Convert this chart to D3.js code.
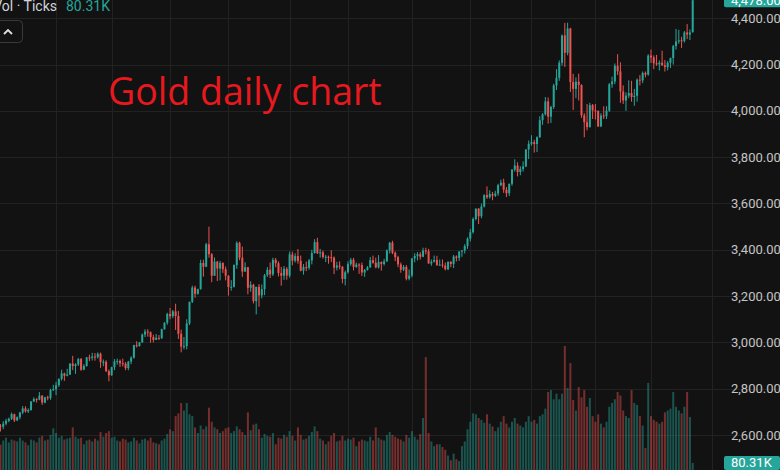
<!DOCTYPE html>
<html><head><meta charset="utf-8">
<script src="https://cdn.jsdelivr.net/npm/d3@7"></script>
<style>html,body{margin:0;padding:0;background:#121212;overflow:hidden}svg{display:block}</style>
</head><body>
<svg id="c" width="780" height="470"></svg>
<script>
const opens = [
2624,2658,2640,2636,2649,2661,2670,2690,2663,2677,2697,2715,2702,2708,2745,2755,2753,2770,2740,2763,2760,2794,
2798,2815,2842,2866,2856,2861,2908,2898,2905,2928,2882,2898,2935,2933,2939,2936,2951,2915,2916,2876,
2858,2893,2918,2920,2910,2908,2889,2917,2934,2988,2984,3000,3034,3047,3044,3023,3011,3020,3018,3057,3085,
3123,3113,3134,3114,3037,2982,2984,3082,3175,3237,3210,3230,3343,3327,3424,3381,3288,3349,3319,3343,3316,
3288,3239,3240,3334,3430,3366,3306,3325,3236,3249,3178,3240,3203,3230,3290,3314,3294,3357,3342,3300,3288,3318,
3289,3380,3353,3373,3352,3310,3325,3322,3354,3386,3433,3385,3389,3369,3370,3368,3366,3323,3332,3327,3274,
3303,3338,3357,3326,3336,3334,3302,3313,3324,3355,3344,3324,3347,3339,3350,3397,3431,3387,3368,3337,3314,3326,3275,
3289,3363,3373,3381,3370,3397,3394,3341,3348,3356,3335,3336,3332,3316,3348,3339,3371,3365,3393,3397,3416,
3448,3476,3533,3578,3545,3587,3636,3627,3641,3634,3643,3679,3690,3660,3644,3685,3746,3764,3736,3749,3760,3833,
3858,3865,3857,3886,3960,3985,4041,3975,4017,4110,4143,4208,4326,4251,4356,4125,4095,4126,4112,3981,3951,3930,4025,
4002,4000,3933,3980,3977,4001,4115,4127,4195,4171,4084,4045,4066,4077,4060,4065,4135,4132,4164,4157,
4239,4231,4206,4201,4208,4197,4189,4208,4228,4280,4300,4305,4302,4339,4330,4340];
const highs = [
2660,2665,2647,2660,2670,2675,2697,2692,2680,2700,2725,2724,2715,2746,2763,2759,2786,2772,2765,2770,2800,2817,
2830,2845,2882,2869,2886,2911,2942,2910,2933,2933,2906,2937,2947,2955,2954,2957,2956,2926,2923,2883,
2895,2928,2930,2926,2930,2915,2920,2940,2990,3005,3002,3038,3057,3057,3047,3033,3036,3032,3059,3087,3128,
3149,3140,3167,3136,3055,3023,3100,3176,3245,3245,3232,3357,3357,3430,3500,3386,3367,3352,3352,3346,3328,
3290,3269,3337,3437,3435,3414,3346,3325,3264,3253,3240,3252,3250,3296,3325,3345,3366,3365,3350,3326,3330,3325,
3392,3392,3385,3403,3375,3338,3349,3360,3400,3446,3452,3404,3397,3378,3375,3398,3371,3348,3350,3329,3310,
3350,3365,3365,3345,3342,3345,3317,3330,3369,3375,3366,3377,3350,3361,3402,3434,3439,3393,3374,3345,3334,3334,3315,
3363,3385,3390,3390,3409,3409,3404,3358,3375,3374,3358,3358,3345,3350,3351,3378,3376,3393,3399,3424,3454,
3490,3540,3578,3580,3600,3640,3674,3657,3650,3655,3685,3703,3707,3671,3686,3749,3791,3778,3761,3782,3835,3872,
3895,3875,3890,3977,3990,4060,4058,4022,4117,4180,4218,4330,4380,4381,4359,4160,4145,4161,4115,3990,4030,4035,4030,
4030,4002,3990,4020,4020,4120,4148,4205,4245,4210,4110,4080,4132,4130,4095,4140,4155,4170,4170,4245,
4265,4240,4242,4218,4260,4220,4215,4230,4285,4354,4350,4320,4345,4375,4352,4484];
const lows = [
2620,2635,2615,2625,2642,2655,2665,2656,2660,2668,2690,2697,2695,2705,2742,2740,2750,2730,2737,2750,2752,2790,
2772,2808,2835,2834,2853,2860,2880,2864,2898,2877,2880,2895,2919,2922,2921,2930,2890,2897,2872,2832,
2856,2880,2904,2894,2896,2880,2880,2906,2930,2978,2982,2998,3023,3025,2999,3000,3010,3010,3015,3055,3076,
3100,3105,3054,3015,2957,2970,2970,3075,3170,3193,3206,3228,3284,3325,3366,3260,3287,3265,3268,3300,3268,
3202,3223,3237,3318,3355,3283,3306,3208,3219,3168,3121,3154,3190,3204,3283,3278,3287,3325,3285,3245,3270,3271,
3280,3333,3345,3340,3307,3293,3308,3314,3337,3384,3382,3366,3362,3347,3340,3347,3295,3311,3316,3255,3246,
3297,3331,3311,3322,3296,3287,3283,3310,3322,3340,3320,3319,3310,3332,3348,3384,3381,3351,3325,3301,3308,3268,3268,
3281,3346,3354,3358,3368,3380,3340,3331,3345,3330,3331,3323,3311,3312,3325,3321,3350,3352,3370,3384,3404,
3436,3470,3527,3511,3536,3583,3620,3621,3614,3628,3633,3675,3646,3628,3632,3677,3738,3717,3722,3738,3757,3792,
3850,3820,3822,3884,3940,3980,3945,3948,4008,4090,4130,4195,4190,4240,4082,4004,4055,4045,3970,3886,3916,3928,3965,
3963,3930,3930,3965,3965,3995,4100,4115,4155,4035,4030,4000,4055,4040,4022,4040,4110,4120,4145,4152,
4207,4180,4195,4175,4195,4170,4175,4185,4200,4265,4290,4272,4295,4310,4306,4338];
const closes = [
2658,2640,2636,2649,2661,2670,2690,2663,2677,2697,2715,2702,2708,2745,2755,2753,2770,2740,2763,2760,2794,2798,
2815,2842,2866,2856,2861,2908,2898,2905,2928,2882,2898,2935,2933,2939,2936,2951,2915,2916,2876,2858,
2893,2918,2920,2910,2908,2889,2917,2934,2988,2984,3000,3034,3047,3044,3023,3011,3020,3018,3057,3085,3123,
3113,3134,3114,3037,2982,2984,3082,3175,3237,3210,3230,3343,3327,3424,3381,3288,3349,3319,3343,3316,3288,
3239,3240,3334,3430,3366,3306,3325,3236,3249,3178,3240,3203,3230,3290,3314,3294,3357,3342,3300,3288,3318,3289,
3380,3353,3373,3352,3310,3325,3322,3354,3386,3433,3385,3389,3369,3370,3368,3366,3323,3332,3327,3274,3303,
3338,3357,3326,3336,3334,3302,3313,3324,3355,3344,3324,3347,3339,3350,3397,3431,3387,3368,3337,3314,3326,3275,3289,
3363,3373,3381,3370,3397,3394,3341,3348,3356,3335,3336,3332,3316,3348,3339,3371,3365,3393,3397,3416,3448,
3476,3533,3578,3545,3587,3636,3627,3641,3634,3643,3679,3690,3660,3644,3685,3746,3764,3736,3749,3760,3833,3858,
3865,3857,3886,3960,3985,4041,3975,4017,4110,4143,4208,4326,4251,4356,4125,4095,4126,4112,3981,3951,3930,4025,4002,
4000,3933,3980,3977,4001,4115,4127,4195,4171,4084,4045,4066,4077,4060,4065,4135,4132,4164,4157,4239,
4231,4206,4201,4208,4197,4189,4208,4228,4280,4300,4305,4302,4339,4330,4339,4478];
const volumes = [
180,185,178,200,215,190,205,200,195,215,200,190,175,205,200,190,215,225,200,205,230,265,
240,215,225,205,210,215,270,220,210,215,180,200,205,195,210,200,245,220,240,250,
215,220,200,195,210,205,190,195,215,200,185,205,210,200,215,190,185,180,200,210,235,
260,250,330,345,400,360,400,340,330,270,240,280,260,275,375,300,270,260,240,250,265,
270,240,250,275,260,245,230,350,255,285,290,260,215,235,225,220,240,180,215,210,230,220,
250,225,200,270,230,205,210,225,245,275,250,210,200,180,195,225,240,195,200,225,200,
210,205,215,170,195,205,200,195,220,200,270,215,205,200,230,245,230,220,210,205,195,230,215,
250,220,205,235,320,645,240,195,170,180,180,165,150,120,95,130,100,90,170,195,260,
300,345,340,320,310,295,340,290,275,250,270,300,330,290,270,300,320,290,280,270,300,330,
300,310,290,330,340,370,459,469,420,450,420,450,704,480,613,416,360,485,430,469,380,427,330,
300,340,290,270,300,380,400,420,459,440,360,330,320,469,400,389,330,280,160,507,
330,310,300,290,300,350,360,370,459,380,360,345,380,459,325,80.31];
const priceTicks = [2600,2800,3000,3200,3400,3600,3800,4000,4200,4400];
const holidays = ["2025-01-01","2025-04-18","2025-12-25","2026-01-01"];
const titleText = "Gold daily chart";
const legendName = "Vol · Ticks";
const legendValue = "80.31K";

// trading-day calendar (weekdays minus holidays) used for month gridlines
const fmt = d3.utcFormat("%Y-%m-%d");
const days = d3.utcDays(new Date(Date.UTC(2025,0,2)), new Date(Date.UTC(2026,0,10)))
  .filter(d => d.getUTCDay() !== 0 && d.getUTCDay() !== 6 && !holidays.includes(fmt(d)));
const monthStarts = [];
days.forEach((d,i) => { if (i === 0 || d.getUTCMonth() !== days[i-1].getUTCMonth()) monthStarts.push(i); });

const data = closes.map((c,i) => ({i, o: opens[i], h: highs[i], l: lows[i], c, v: volumes[i]}));

const W = 780, H = 470;
const svg = d3.select("#c");
const x = d3.scaleLinear().domain([0, 251]).range([-5.1, 692.7]);
const y = d3.scaleLinear().domain([2600, 4400]).range([435, 18.3]);
const yv = d3.scaleLinear().domain([0, 720]).range([478, 343]);

const UP = "#26a69a", DN = "#ef5350";
const gridC = "#222222";

// grid
const g = svg.append("g");
g.selectAll("line.h").data(priceTicks).join("line")
  .attr("x1", 0).attr("x2", W).attr("y1", d => Math.round(y(d)) + 0.5).attr("y2", d => Math.round(y(d)) + 0.5)
  .attr("stroke", gridC).attr("stroke-width", 1);
g.selectAll("line.v").data(monthStarts).join("line")
  .attr("y1", 0).attr("y2", H).attr("x1", d => Math.round(x(d)) + 0.5).attr("x2", d => Math.round(x(d)) + 0.5)
  .attr("stroke", gridC).attr("stroke-width", 1);

// volume
svg.append("g").selectAll("rect").data(data).join("rect")
  .attr("x", d => x(d.i) - 1).attr("width", 2)
  .attr("y", d => yv(d.v)).attr("height", d => yv(0) - yv(d.v))
  .attr("fill", d => d.c >= d.o ? UP : DN).attr("fill-opacity", 0.45);

// candles
const cg = svg.append("g");
cg.selectAll("line").data(data).join("line")
  .attr("x1", d => x(d.i)).attr("x2", d => x(d.i))
  .attr("y1", d => y(d.h)).attr("y2", d => y(d.l))
  .attr("stroke", d => d.c >= d.o ? UP : DN).attr("stroke-width", 1);
cg.selectAll("rect").data(data).join("rect")
  .attr("x", d => x(d.i) - 1).attr("width", 2)
  .attr("y", d => y(Math.max(d.o, d.c)))
  .attr("height", d => Math.max(1, Math.abs(y(d.o) - y(d.c))))
  .attr("fill", d => d.c >= d.o ? UP : DN);

// price axis labels
svg.append("g").selectAll("text").data(priceTicks).join("text")
  .attr("x", 731).attr("y", d => y(d)).attr("dy", "0.35em")
  .attr("fill", "#c4c4c4").attr("font-family", "Roboto, sans-serif").attr("font-size", 13)
  .text(d => d3.format(",.2f")(d));

// last price tag
const last = data[data.length - 1];
svg.append("rect").attr("x", 724).attr("y", y(last.c) - 7).attr("width", 60).attr("height", 14).attr("rx", 2).attr("fill", UP);
svg.append("text").attr("x", 731).attr("y", y(last.c)).attr("dy", "0.35em").attr("fill", "#ffffff")
  .attr("font-family", "Roboto, sans-serif").attr("font-size", 13).text(d3.format(",.2f")(last.c));
// last volume tag
svg.append("rect").attr("x", 724).attr("y", yv(last.v) - 7).attr("width", 56).attr("height", 14).attr("rx", 2).attr("fill", UP);
svg.append("text").attr("x", 731).attr("y", yv(last.v)).attr("dy", "0.35em").attr("fill", "#ffffff")
  .attr("font-family", "Roboto, sans-serif").attr("font-size", 13).text(legendValue);

// legend
svg.append("text").attr("x", 57).attr("y", 11).attr("text-anchor", "end")
  .attr("fill", "#d1d4dc").attr("font-family", "Roboto, sans-serif").attr("font-size", 14).text(legendName);
svg.append("text").attr("x", 66).attr("y", 11)
  .attr("fill", UP).attr("font-family", "Roboto, sans-serif").attr("font-size", 14).text(legendValue);

// collapse button
svg.append("rect").attr("x", -4.5).attr("y", 20.5).attr("width", 27).attr("height", 22).attr("rx", 4)
  .attr("fill", "none").attr("stroke", "#3a3a3a");
svg.append("path").attr("d", "M4,34 L8,30 L12,34").attr("fill", "none").attr("stroke", "#e0e0e0").attr("stroke-width", 1.8);

// title
svg.append("text").attr("x", 108).attr("y", 105)
  .attr("fill", "#e8191e").attr("font-family", "'Open Sans', sans-serif").attr("font-size", 37.5)
  .text(titleText);
</script>
</body></html>
